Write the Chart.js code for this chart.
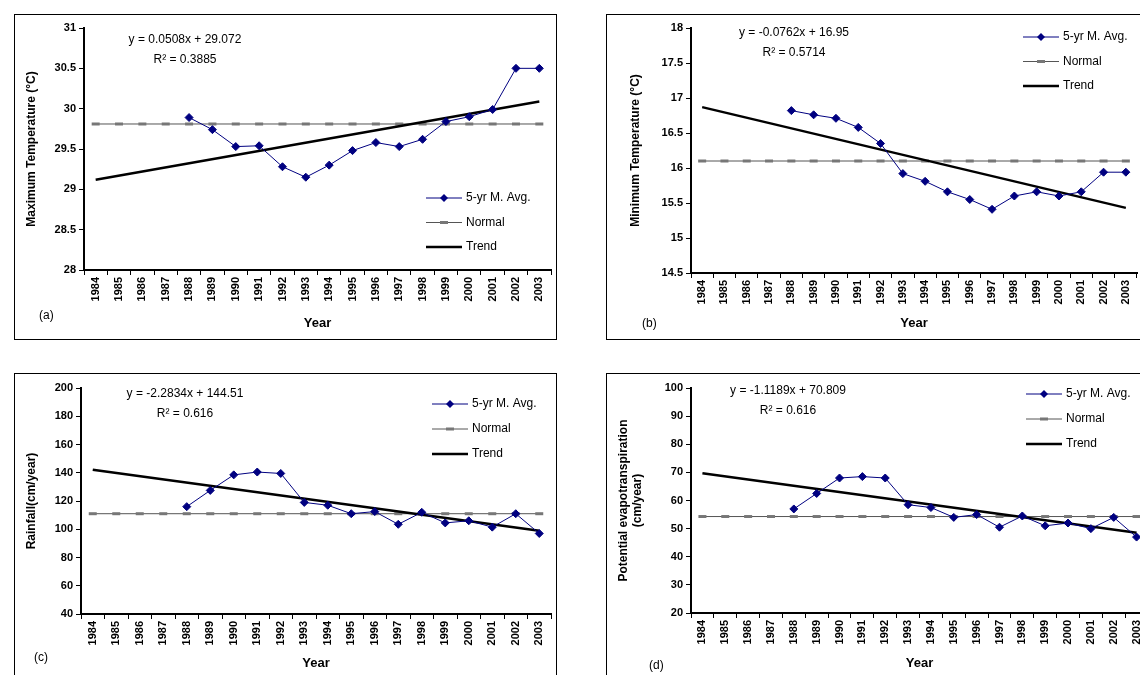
<!DOCTYPE html>
<html>
<head>
<meta charset="utf-8">
<script src="https://cdn.jsdelivr.net/npm/chart.js@4.4.0/dist/chart.umd.min.js"></script>
<style>
  body { margin: 0; width: 1140px; height: 675px; overflow: hidden; background: #fff; position: relative; }
  .box { position: absolute; border: 1.5px solid #000; box-sizing: border-box; background: #fff; }
  .box canvas { position: absolute; left: 0; top: 0; }
</style>
</head>
<body>
<div class="box" style="left:14px;top:14px;width:543px;height:326px"><canvas id="cA"></canvas></div>
<div class="box" style="left:606px;top:14px;width:560px;height:326px"><canvas id="cB"></canvas></div>
<div class="box" style="left:14px;top:373px;width:543px;height:310px"><canvas id="cC"></canvas></div>
<div class="box" style="left:606px;top:373px;width:560px;height:310px"><canvas id="cD"></canvas></div>
<script>
// years on the x axis
let years = ['1984','1985','1986','1987','1988','1989','1990','1991','1992','1993',
             '1994','1995','1996','1997','1998','1999','2000','2001','2002','2003'];

// 5-yr moving averages, 1988-2003
let maxTemp = [29.89, 29.74, 29.53, 29.54, 29.28, 29.15, 29.30, 29.48, 29.58, 29.53, 29.62, 29.84, 29.90, 29.99, 30.50, 30.50];
let minTemp = [16.82, 16.76, 16.71, 16.58, 16.35, 15.92, 15.81, 15.66, 15.55, 15.41, 15.60, 15.66, 15.60, 15.66, 15.94, 15.94];
let rainfall = [116, 127.5, 138.5, 140.5, 139.5, 119, 117, 111, 112.5, 103.5, 112, 104.5, 106, 101.5, 111, 97];
let pet = [57, 62.5, 68, 68.5, 68, 58.5, 57.5, 54, 55, 50.5, 54.5, 51, 52, 50, 54, 47];

// normals
let normalMax = 29.81;
let normalMin = 16.1;
let normalRain = 111;
let normalPet = 54.3;

// trend line end points (1984, 2003)
let trendMax = [29.12, 30.09];
let trendMin = [16.87, 15.43];
let trendRain = [142.2, 98.9];
let trendPet = [69.7, 48.5];

const FONT = "'Liberation Sans', Arial, sans-serif";

function pad(vals) {
    let out = [null, null, null, null];
    return out.concat(vals);
}
function flat(v) {
    return years.map(() => v);
}
function trend(ends) {
    let out = years.map(() => null);
    out[0] = ends[0];
    out[years.length - 1] = ends[1];
    return out;
}

// draws equation, legend and panel letter
const notes = {
    id: 'notes',
    afterDraw(chart, args, o) {
        let ctx = chart.ctx;
        ctx.save();
        ctx.fillStyle = '#000';
        ctx.font = '12px ' + FONT;
        ctx.textBaseline = 'middle';
        ctx.textAlign = 'center';
        ctx.fillText(o.eq, o.eqX, o.eqY);
        ctx.fillText('R² = ' + o.r2, o.eqX, o.eqY + 20);
        ctx.textAlign = 'left';
        ctx.fillText(o.label, o.labX, o.labY);
        let x = o.legX, y = o.legY, g = o.legGap;
        // 5-yr
        ctx.strokeStyle = '#000080'; ctx.lineWidth = 1;
        ctx.beginPath(); ctx.moveTo(x, y); ctx.lineTo(x + 36, y); ctx.stroke();
        ctx.fillStyle = '#000080';
        ctx.beginPath(); ctx.moveTo(x + 18, y - 4); ctx.lineTo(x + 22, y); ctx.lineTo(x + 18, y + 4); ctx.lineTo(x + 14, y); ctx.closePath(); ctx.fill();
        // normal
        ctx.strokeStyle = '#555'; ctx.lineWidth = 1;
        ctx.beginPath(); ctx.moveTo(x, y + g); ctx.lineTo(x + 36, y + g); ctx.stroke();
        ctx.strokeStyle = '#777'; ctx.lineWidth = 3;
        ctx.beginPath(); ctx.moveTo(x + 14, y + g); ctx.lineTo(x + 22, y + g); ctx.stroke();
        // trend
        ctx.strokeStyle = '#000'; ctx.lineWidth = 2.5;
        ctx.beginPath(); ctx.moveTo(x, y + 2 * g); ctx.lineTo(x + 36, y + 2 * g); ctx.stroke();
        ctx.fillStyle = '#000';
        ctx.fillText('5-yr M. Avg.', x + 40, y);
        ctx.fillText('Normal', x + 40, y + g);
        ctx.fillText('Trend', x + 40, y + 2 * g);
        ctx.restore();
    }
};

function makeChart(id, vals, normal, ends, yOpt, lay, note) {
    let canvas = document.getElementById(id);
    let box = canvas.parentNode;
    canvas.width = box.offsetWidth;
    canvas.height = box.offsetHeight;
    canvas.style.width = box.offsetWidth + 'px';
    canvas.style.height = box.offsetHeight + 'px';
    return new Chart(canvas, {
        type: 'line',
        data: {
            labels: years,
            datasets: [{
                label: '5-yr M. Avg.',
                data: pad(vals),
                borderColor: '#000080',
                backgroundColor: '#000080',
                borderWidth: 1,
                pointStyle: 'rectRot',
                pointRadius: 4,
                order: 1
            },
            {
                label: 'Normal',
                data: flat(normal),
                borderColor: '#555',
                borderWidth: 1,
                pointStyle: 'line',
                pointRadius: 4,
                pointBorderWidth: 3,
                pointBorderColor: '#777',
                order: 3
            },
            {
                label: 'Trend',
                data: trend(ends),
                borderColor: '#000',
                borderWidth: 2.5,
                pointRadius: 0,
                spanGaps: true,
                order: 2
            }]
        },
        options: {
            responsive: false,
            animation: false,
            layout: { padding: { top: lay.top, right: lay.right, left: lay.left, bottom: lay.bottom } },
            plugins: { legend: { display: false }, tooltip: { enabled: false }, notes: note },
            scales: {
                x: {
                    offset: true,
                    grid: { drawOnChartArea: false, color: '#000', tickLength: 5, offset: true },
                    border: { color: '#000', width: 2 },
                    ticks: { color: '#000', font: { family: FONT, size: 11, weight: 'bold' }, minRotation: 90, maxRotation: 90, padding: 2, autoSkip: false },
                    title: { display: true, text: 'Year', color: '#000', font: { family: FONT, size: 13, weight: 'bold' }, padding: 0 },
                    afterFit: s => { s.height = lay.xh; }
                },
                y: {
                    min: yOpt.min, max: yOpt.max,
                    grid: { drawOnChartArea: false, color: '#000', tickLength: 5 },
                    border: { color: '#000', width: 2 },
                    ticks: {
                        stepSize: yOpt.step, color: '#000', font: { family: FONT, size: 11, weight: 'bold' }, padding: 3,
                        callback: v => String(Number(v.toFixed(1)))
                    },
                    title: { display: true, text: yOpt.title, color: '#000', font: { family: FONT, size: 12, weight: 'bold' }, padding: { top: 0, bottom: 0 } },
                    afterFit: s => { s.width = lay.yw; }
                }
            }
        },
        plugins: [notes]
    });
}

makeChart('cA', maxTemp, normalMax, trendMax,
    { min: 28, max: 31, step: 0.5, title: 'Maximum Temperature (°C)' },
    { top: 13, right: 2, left: 9, bottom: 10, xh: 61, yw: 60 },
    { eq: 'y = 0.0508x + 29.072', r2: '0.3885', eqX: 170, eqY: 25, label: '(a)', labX: 24, labY: 301, legX: 411, legY: 183, legGap: 24.5 });

makeChart('cB', minTemp, normalMin, trendMin,
    { min: 14.5, max: 18, step: 0.5, title: 'Minimum Temperature (°C)' },
    { top: 13, right: 30, left: 21, bottom: 10, xh: 58, yw: 63 },
    { eq: 'y = -0.0762x + 16.95', r2: '0.5714', eqX: 187, eqY: 18, label: '(b)', labX: 35, labY: 309, legX: 416, legY: 22, legGap: 24.5 });

makeChart('cC', rainfall, normalRain, trendRain,
    { min: 40, max: 200, step: 20, title: 'Rainfall(cm/year)' },
    { top: 14, right: 2, left: 9, bottom: 13, xh: 57, yw: 57 },
    { eq: 'y = -2.2834x + 144.51', r2: '0.616', eqX: 170, eqY: 20, label: '(c)', labX: 19, labY: 284, legX: 417, legY: 30, legGap: 25 });

makeChart('cD', pet, normalPet, trendPet,
    { min: 20, max: 100, step: 10, title: ['Potential evapotranspiration', '(cm/year)'] },
    { top: 14, right: 19, left: 9, bottom: 13, xh: 58, yw: 75 },
    { eq: 'y = -1.1189x + 70.809', r2: '0.616', eqX: 181, eqY: 17, label: '(d)', labX: 42, labY: 292, legX: 419, legY: 20, legGap: 25 });
</script>
</body>
</html>
